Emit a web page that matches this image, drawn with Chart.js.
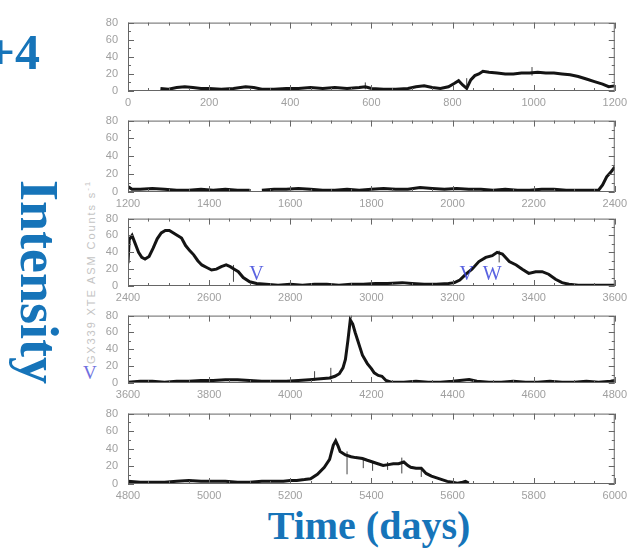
<!DOCTYPE html>
<html>
<head>
<meta charset="utf-8">
<script src="https://cdn.jsdelivr.net/npm/chart.js@4.4.1/dist/chart.umd.min.js"></script>
<style>
  body { margin: 0; background: #fff; }
  #wrap { position: relative; width: 632px; height: 548px; overflow: hidden; background: #fff; }
  #wrap canvas { position: absolute; left: 0; }
  .big { position: absolute; font-family: "Liberation Serif", "DejaVu Serif", serif; font-weight: bold; color: #1674b9; white-space: nowrap; }
  .rot { position: absolute; white-space: nowrap; text-align: center; transform: translate(-50%, -50%); }
</style>
</head>
<body>
<div id="wrap">
  <div class="big" style="right:592px; top:22px; font-size:50px; line-height:60px;">+4</div>
  <div class="big rot" style="left:39px; top:282px; width:260px; height:60px; font-size:54px; line-height:60px; transform: translate(-50%, -50%) rotate(90deg);">Intensity</div>
  <div class="big" style="left:369px; top:501px; font-size:40px; line-height:50px; transform: translateX(-50%);">Time (days)</div>
  <div class="rot" style="left:90px; top:272px; width:300px; font-family:'Liberation Sans', sans-serif; font-size:11px; letter-spacing:1.9px; color:#c4c4c4; transform: translate(-50%, -50%) rotate(-90deg);">GX339 XTE ASM Counts s<sup style="font-size:8px">-1</sup></div>
  <div style="position:absolute; left:83px; top:362px; font-family:'Liberation Serif', serif; font-size:19px; color:#7070e0;">V</div>
</div>
<script>
// ASM light curve, days vs counts/s
const days = [
  80, 100, 120, 140, 160, 180, 200, 230, 260, 290, 310, 330, 360, 390, 420, 450, 480, 510, 540, 570, 585, 600,
  630, 660, 690, 710, 730, 750, 770, 790, 805, 815, 825, 835, 845, 855, 865, 875, 890, 910, 930, 950, 970, 990,
  1010, 1030, 1050, 1070, 1090, 1110, 1130, 1150, 1170, 1185, 1200,
  1210, 1230, 1260, 1290, 1320, 1350, 1380, 1410, 1440, 1470, 1500, 1505, 1530, 1560, 1590, 1620, 1650, 1680,
  1710, 1740, 1770, 1800, 1830, 1860, 1890, 1920, 1950, 1980, 2010, 2040, 2070, 2100, 2130, 2160, 2190, 2220,
  2250, 2280, 2310, 2340, 2360, 2370, 2380, 2390, 2400,
  2403, 2410, 2418, 2426, 2434, 2442, 2452, 2462, 2472, 2482, 2492, 2502, 2512, 2522, 2532, 2542, 2552, 2562,
  2572, 2582, 2594, 2606, 2618, 2630, 2642, 2652, 2662, 2672, 2684, 2700, 2717, 2740, 2770, 2800, 2830, 2860,
  2890, 2920, 2950, 2980, 3010, 3040, 3076, 3100, 3130, 3160, 3190, 3205, 3218, 3233, 3248, 3265, 3282, 3298,
  3310, 3323, 3340, 3357, 3372, 3388, 3405, 3421, 3437, 3454, 3470, 3487, 3510, 3540, 3570, 3600,
  3630, 3660, 3690, 3720, 3750, 3780, 3810, 3840, 3870, 3900, 3930, 3960, 3990, 4020, 4047, 4075, 4097, 4110,
  4121, 4130, 4136, 4142, 4148, 4154, 4160, 4166, 4172, 4178, 4190, 4200, 4207, 4217, 4226, 4236, 4249, 4280,
  4310, 4340, 4370, 4400, 4441, 4460, 4490, 4520, 4550, 4580, 4610, 4640, 4670, 4700, 4730, 4760, 4790, 4800,
  4830, 4860, 4890, 4920, 4950, 4980, 5010, 5040, 5070, 5100, 5130, 5160, 5183, 5200, 5216, 5235, 5250, 5267,
  5284, 5297, 5306, 5312, 5318, 5323, 5336, 5350, 5361, 5378, 5390, 5403, 5416, 5429, 5442, 5454, 5467, 5480,
  5490, 5497, 5510, 5523, 5535, 5548, 5561, 5574, 5587, 5600, 5612, 5625, 5632, 5640
];
const counts = [
  3, 2, 4, 5, 4, 3, 3, 2, 3, 5, 4, 2, 2, 3, 3, 4, 3, 4, 3, 4, 5, 3,
  2, 2, 3, 5, 6, 4, 3, 5, 9, 12, 7, 3, 13, 18, 20, 23, 22, 21, 20, 20, 21, 21,
  22, 21, 21, 20, 19, 17, 14, 11, 8, 5, 6,
  3, 3, 4, 3, 2, 2, 3, 2, 3, 2, 2, null, 2, 3, 3, 4, 3, 2,
  2, 3, 2, 3, 4, 3, 3, 5, 4, 3, 4, 3, 3, 2, 3, 2, 2, 3,
  3, 2, 2, 2, 2, 8, 17, 22, 28,
  55, 60, 50, 40, 34, 32, 35, 45, 56, 63, 66, 66, 63, 60, 57, 48, 42, 37,
  30, 25, 22, 19, 20, 23, 25, 23, 20, 17, 10, 5, 3, 2, 1, 2, 1, 2,
  2, 1, 2, 2, 3, 3, 4, 3, 2, 2, 3, 4, 7, 14, 20, 29, 34, 36,
  40, 38, 29, 25, 20, 15, 17, 17, 14, 8, 4, 2, 1, 1, 1, 1,
  2, 2, 1, 2, 2, 3, 3, 4, 4, 3, 2, 2, 2, 3, 4, 5, 6, 8,
  11, 18, 28, 50, 75, 70, 60, 51, 42, 33, 23, 17, 12, 9, 8, 3, 1, 1,
  2, 1, 1, 2, 4, 2, 1, 1, 2, 1, 1, 2, 1, 1, 2, 1, 2, 3,
  2, 2, 2, 3, 4, 3, 3, 3, 2, 2, 3, 3, 3, 4, 4, 5, 6, 11,
  19, 28, 44, 49, 43, 37, 33, 31, 30, 29, 27, 25, 23, 21, 22, 23, 23, 25,
  21, 19, 18, 18, 12, 9, 7, 5, 3, 2, 1, 2, 3, 1
];

// error bars that stick out of the curve
const errDays = [585, 835, 996, 2660, 3315, 4060, 4100, 5340, 5380, 5403, 5440, 5475, 5523];
const errLow  = [2, 2, 18, 5, 28, 3, 4, 11, 18, 15, 16, 12, 8];
const errHigh = [10, 15, 28, 25, 42, 14, 18, 37, 29, 26, 25, 30, 18];

// labels written under the third strip
const markDays = [2717, 3235, 3298];
const markText = ['V', 'V', 'W'];

// five strips of 1200 days each
const stripStart = [0, 1200, 2400, 3600, 4800];
const stripTop = [14, 112, 210, 307, 405];
const stripBottom = [91, 192, 286, 383, 484];

const yTicks = [0, 20, 40, 60, 80];

const curve = days.map((d, i) => ({ x: d, y: counts[i] }));
const errPts = [];
errDays.forEach((d, i) => {
  errPts.push({ x: d, y: errLow[i] }, { x: d, y: errHigh[i] }, { x: d, y: null });
});

const frameTicks = {
  id: 'frameTicks',
  afterDraw(chart) {
    const { ctx, chartArea: a, scales: { x, y } } = chart;
    ctx.save();
    ctx.strokeStyle = '#666';
    ctx.lineWidth = 1;
    ctx.strokeRect(a.left + 0.5, a.top + 0.5, a.right - a.left - 1, a.bottom - a.top - 1);
    ctx.beginPath();
    for (let d = x.min; d <= x.max; d += 50) {
      const px = Math.round(x.getPixelForValue(d)) + 0.5;
      const len = d % 200 === 0 ? 6 : 3;
      ctx.moveTo(px, a.top); ctx.lineTo(px, a.top + len);
      ctx.moveTo(px, a.bottom); ctx.lineTo(px, a.bottom - len);
    }
    for (let v = 0; v <= 80; v += 10) {
      const py = Math.round(y.getPixelForValue(v)) + 0.5;
      const len = v % 20 === 0 ? 6 : 3;
      ctx.moveTo(a.left, py); ctx.lineTo(a.left + len, py);
      ctx.moveTo(a.right, py); ctx.lineTo(a.right - len, py);
    }
    ctx.stroke();
    ctx.restore();
  }
};

const marks = {
  id: 'marks',
  afterDatasetsDraw(chart, args, opts) {
    if (!opts.show) return;
    const { ctx, scales: { x, y } } = chart;
    ctx.save();
    ctx.font = '20px "Liberation Serif", serif';
    ctx.fillStyle = 'rgba(60, 70, 220, 0.85)';
    ctx.textAlign = 'center';
    ctx.textBaseline = 'bottom';
    markDays.forEach((d, i) => {
      ctx.fillText(markText[i], x.getPixelForValue(d), y.getPixelForValue(1));
    });
    ctx.restore();
  }
};

const wrap = document.getElementById('wrap');
const tickFont = { family: '"Liberation Sans", "DejaVu Sans", sans-serif', size: 11 };

stripStart.forEach((start, k) => {
  const padTop = 8, axisH = 20;
  const canvas = document.createElement('canvas');
  canvas.width = 632;
  canvas.height = stripBottom[k] - stripTop[k] + padTop + axisH;
  canvas.style.top = (stripTop[k] - padTop) + 'px';
  wrap.appendChild(canvas);

  new Chart(canvas.getContext('2d'), {
    type: 'line',
    data: {
      datasets: [
        {
          data: curve,
          borderColor: '#141414',
          borderWidth: 3,
          pointRadius: 0,
          tension: 0,
          spanGaps: false
        },
        {
          data: errPts,
          borderColor: '#444',
          borderWidth: 1,
          pointRadius: 0,
          spanGaps: false
        }
      ]
    },
    options: {
      responsive: false,
      animation: false,
      events: [],
      layout: { padding: { left: 0, right: 16, top: padTop, bottom: 0 } },
      plugins: {
        legend: { display: false },
        tooltip: { enabled: false },
        marks: { show: k === 2 }
      },
      scales: {
        x: {
          type: 'linear',
          min: start,
          max: start + 1200,
          grid: { display: false, drawTicks: false },
          border: { display: false },
          afterFit: (s) => { s.height = axisH; },
          ticks: {
            stepSize: 200,
            autoSkip: false,
            maxRotation: 0,
            padding: 5,
            color: '#a0a0a0',
            font: tickFont,
            callback: (v) => String(v)
          }
        },
        y: {
          min: 0,
          max: 80,
          grid: { display: false, drawTicks: false },
          border: { display: false },
          afterFit: (s) => { s.width = 128; },
          afterBuildTicks: (s) => { s.ticks = yTicks.map(v => ({ value: v })); },
          ticks: {
            padding: 10,
            color: '#a0a0a0',
            font: tickFont,
            callback: (v) => String(v)
          }
        }
      }
    },
    plugins: [frameTicks, marks]
  });
});
</script>
</body>
</html>
